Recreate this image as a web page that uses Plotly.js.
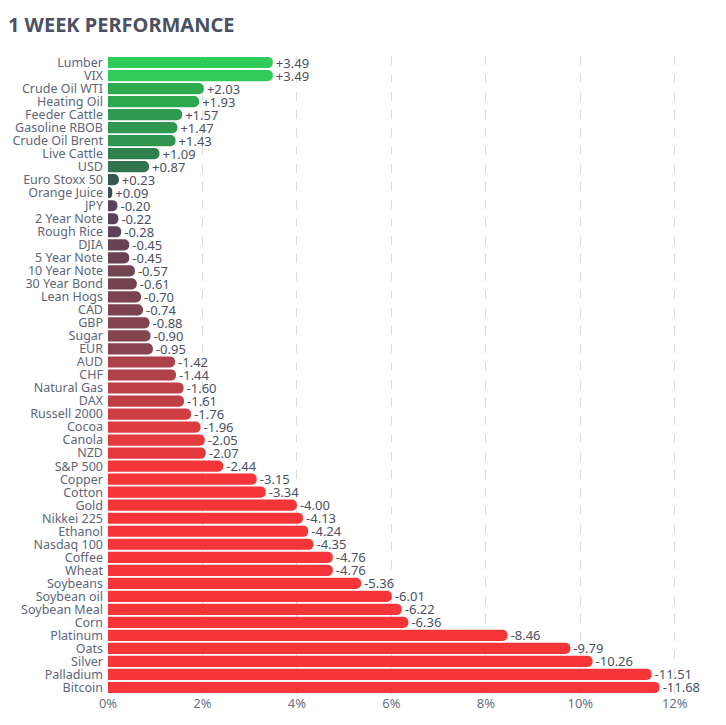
<!DOCTYPE html>
<html>
<head>
<meta charset="utf-8">
<script src="https://cdn.plot.ly/plotly-3.0.1.min.js"></script>
<style>html,body{margin:0;padding:0;background:#fff;}#chart{width:726px;height:725px;}</style>
</head>
<body>
<div id="chart"></div>
<script>
const names = ["Lumber","VIX","Crude Oil WTI","Heating Oil","Feeder Cattle","Gasoline RBOB","Crude Oil Brent","Live Cattle","USD","Euro Stoxx 50","Orange Juice","JPY","2 Year Note","Rough Rice","DJIA","5 Year Note","10 Year Note","30 Year Bond","Lean Hogs","CAD","GBP","Sugar","EUR","AUD","CHF","Natural Gas","DAX","Russell 2000","Cocoa","Canola","NZD","S&P 500","Copper","Cotton","Gold","Nikkei 225","Ethanol","Nasdaq 100","Coffee","Wheat","Soybeans","Soybean oil","Soybean Meal","Corn","Platinum","Oats","Silver","Palladium","Bitcoin"];
const changes = [3.49,3.49,2.03,1.93,1.57,1.47,1.43,1.09,0.87,0.23,0.09,-0.20,-0.22,-0.28,-0.45,-0.45,-0.57,-0.61,-0.70,-0.74,-0.88,-0.90,-0.95,-1.42,-1.44,-1.60,-1.61,-1.76,-1.96,-2.05,-2.07,-2.44,-3.15,-3.34,-4.00,-4.13,-4.24,-4.35,-4.76,-4.76,-5.36,-6.01,-6.22,-6.36,-8.46,-9.79,-10.26,-11.51,-11.68];
const xTicks = [0,2,4,6,8,10,12];

const magnitudes = changes.map(v => Math.abs(v));
const labels = changes.map(v => (v > 0 ? "+" : "") + v.toFixed(2));

const colorscale = [
  [0.0, "#f63538"],
  [0.1, "#f63538"],
  [0.2, "#d43d41"],
  [0.25, "#b4404a"],
  [0.333, "#8b444e"],
  [0.4, "#74434f"],
  [0.467, "#57435a"],
  [0.5, "#414554"],
  [0.533, "#345450"],
  [0.65, "#31744f"],
  [0.7, "#2f864d"],
  [0.75, "#2f984f"],
  [0.833, "#2eaa4f"],
  [1.0, "#30cc5a"]
];

const FONT = "'Noto Sans', 'Open Sans', sans-serif";

const trace = {
  type: "bar",
  orientation: "h",
  y: names,
  x: magnitudes,
  text: labels,
  textposition: "outside",
  constraintext: "none",
  cliponaxis: false,
  textfont: {family: FONT, size: 13, color: "#4b5163"},
  marker: {
    color: changes,
    colorscale: colorscale,
    cmin: -3,
    cmax: 3,
    cornerradius: 5,
    line: {width: 0}
  },
  hoverinfo: "none"
};

const layout = {
  width: 726,
  height: 725,
  margin: {l: 108, r: 30, t: 56, b: 31},
  paper_bgcolor: "#ffffff",
  plot_bgcolor: "#ffffff",
  bargap: 0.14,
  showlegend: false,
  title: {
    text: "<b>1 WEEK PERFORMANCE</b>",
    font: {family: FONT, size: 20, color: "#4b5163"},
    x: 0.011, xanchor: "left", xref: "container",
    y: 0.965, yanchor: "middle", yref: "container"
  },
  xaxis: {
    range: [0, 12.45],
    tickvals: xTicks,
    ticktext: xTicks.map(t => t + "%"),
    showgrid: true,
    gridcolor: "#dcdcdc",
    griddash: "dash",
    gridwidth: 1,
    zeroline: false,
    showline: false,
    ticks: "",
    tickfont: {family: FONT, size: 13, color: "#6b7387"},
    fixedrange: true
  },
  yaxis: {
    type: "category",
    categoryorder: "array",
    categoryarray: names,
    tickmode: "array",
    tickvals: names,
    ticktext: names,
    autorange: "reversed",
    showgrid: false,
    zeroline: false,
    showline: false,
    ticks: "",
    ticklabelstandoff: 4,
    tickfont: {family: FONT, size: 12.5, color: "#5e6679"},
    fixedrange: true
  }
};

Plotly.newPlot("chart", [trace], layout, {displayModeBar: false, staticPlot: true});
</script>
</body>
</html>
